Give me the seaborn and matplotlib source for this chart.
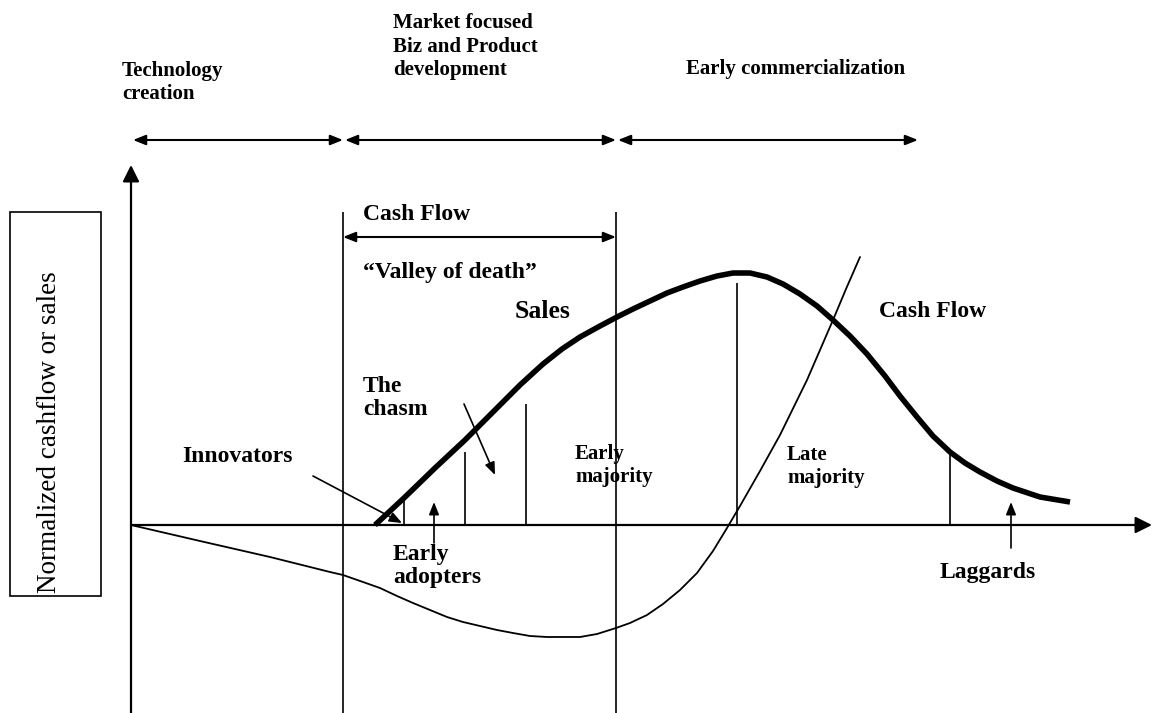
import numpy as np
import pandas as pd
import seaborn as sns
import matplotlib.pyplot as plt
from matplotlib.patches import Rectangle

# time runs along x, value (sales / cash flow) along y; 0 is the time axis
sales_t = [244, 273, 304, 334, 362, 389, 412, 431, 449, 469, 486, 502, 519, 536,
           552, 569, 586, 602, 619, 636, 652, 669, 686, 702, 719, 736, 754, 769,
           786, 802, 819, 834, 849, 866, 882, 909, 939]
sales_v = [0, 27, 57, 85, 113, 140, 161, 176, 188, 199, 208, 216, 224, 232,
           238, 244, 249, 252, 252, 248, 241, 231, 219, 205, 189, 171, 149, 129,
           108, 89, 73, 62, 53, 44, 37, 28, 23]

cash_t = [0, 69, 139, 199, 212, 232, 249, 266, 282, 299, 316, 332, 349, 366,
          382, 399, 416, 432, 449, 466, 485, 499, 516, 532, 549, 566, 582, 596,
          609, 629, 649, 676, 702, 715, 729]
cash_v = [0, -16, -32, -47, -50, -57, -63, -71, -78, -85, -92, -97, -101, -105,
          -108, -111, -112, -112, -112, -109, -103, -98, -90, -79, -65, -48, -26, -3,
          19, 54, 90, 145, 205, 236, 268]

# phases along the top
phase_edges = [0, 212, 485, 787]
phase_labels = ['Technology\ncreation',
                'Market focused\nBiz and Product\ndevelopment',
                'Early commercialization']

# adopter segment dividers (time, height)
segment_t = [273, 334, 395, 606, 819]
segment_top = [25, 73, 121, 242, 70]

# valley of death window
valley_edges = [212, 485]

sns.set_theme(style='white')
plt.rcParams['font.family'] = ['Liberation Serif', 'DejaVu Serif']
plt.rcParams['text.color'] = 'black'

fig = plt.figure(figsize=(11.52, 7.13), dpi=100)
ax = fig.add_axes([0, 0, 1, 1])
ax.set_xlim(-131, 1021)
ax.set_ylim(-188, 525)
ax.axis('off')

sales = pd.DataFrame({'t': sales_t, 'v': sales_v})
cash = pd.DataFrame({'t': cash_t, 'v': cash_v})
sns.lineplot(data=sales, x='t', y='v', sort=False, estimator=None, color='black',
             lw=4.0, solid_capstyle='butt', solid_joinstyle='round', ax=ax)
sns.lineplot(data=cash, x='t', y='v', sort=False, estimator=None, color='black',
             lw=1.3, solid_joinstyle='round', ax=ax)

k = dict(color='black', shrinkA=0, shrinkB=0)

# axes with arrow heads
ax.annotate('', xy=(0, 360), xytext=(0, -188),
            arrowprops=dict(arrowstyle='-|>,head_length=0.5,head_width=0.25',
                            mutation_scale=20, lw=1.6, **k))
ax.annotate('', xy=(1021, 0), xytext=(0, 0),
            arrowprops=dict(arrowstyle='-|>,head_length=0.5,head_width=0.25',
                            mutation_scale=20, lw=1.6, **k))

# phase arrows
for a, b in zip(phase_edges[:-1], phase_edges[1:]):
    ax.annotate('', xy=(b, 385), xytext=(a + 2, 385),
                arrowprops=dict(arrowstyle='<|-|>,head_length=0.5,head_width=0.2',
                                mutation_scale=15, lw=1.5, **k))

# valley of death window
ax.vlines(valley_edges, -188, 313, color='black', lw=1.2)
ax.annotate('', xy=(valley_edges[1], 288), xytext=(valley_edges[0], 288),
            arrowprops=dict(arrowstyle='<|-|>,head_length=0.5,head_width=0.2',
                            mutation_scale=15, lw=1.5, **k))

# adopter dividers
ax.vlines(segment_t, 0, segment_top, color='black', lw=1.2)

# small pointer arrows
pointer = dict(arrowstyle='-|>,head_length=0.5,head_width=0.2', mutation_scale=15,
               lw=1.2, **k)
ax.annotate('', xy=(271, 2), xytext=(182, 49), arrowprops=pointer)
ax.annotate('', xy=(364, 50), xytext=(333, 121), arrowprops=pointer)
ax.annotate('', xy=(303, 23), xytext=(303, -18), arrowprops=pointer)
ax.annotate('', xy=(880, 23), xytext=(880, -23), arrowprops=pointer)

# y label box
ax.add_patch(Rectangle((-121, -71), 91, 384, fill=False, edgecolor='black', lw=1.2))
ax.text(-81, 93, 'Normalized cashflow or sales', rotation=90, ha='center',
        va='center', fontsize=19.5)

# multi-line texts are anchored on the baseline of their last line
hdr = dict(fontsize=15, fontweight='bold', ha='left', va='baseline', linespacing=1.22)
ax.text(-9, 426, phase_labels[0], **hdr)
ax.text(262, 450, phase_labels[1], **hdr)
ax.text(555, 451, phase_labels[2], **hdr)

lab = dict(fontsize=17, fontweight='bold', ha='left', va='baseline', linespacing=1.13)
ax.text(232, 305, 'Cash Flow', **lab)
ax.text(232, 247, '\u201cValley of death\u201d', **lab)
ax.text(384, 207, 'Sales', **dict(lab, fontsize=18.5))
ax.text(232, 110, 'The\nchasm', **lab)
ax.text(51, 63, 'Innovators', **lab)
ax.text(262, -58, 'Early\nadopters', **lab)
ax.text(444, 43, 'Early\nmajority', **dict(lab, fontsize=15, linespacing=1.2))
ax.text(656, 42, 'Late\nmajority', **dict(lab, fontsize=15, linespacing=1.2))
ax.text(748, 208, 'Cash Flow', **lab)
ax.text(809, -53, 'Laggards', **lab)

fig.savefig('out.png', dpi=100)
